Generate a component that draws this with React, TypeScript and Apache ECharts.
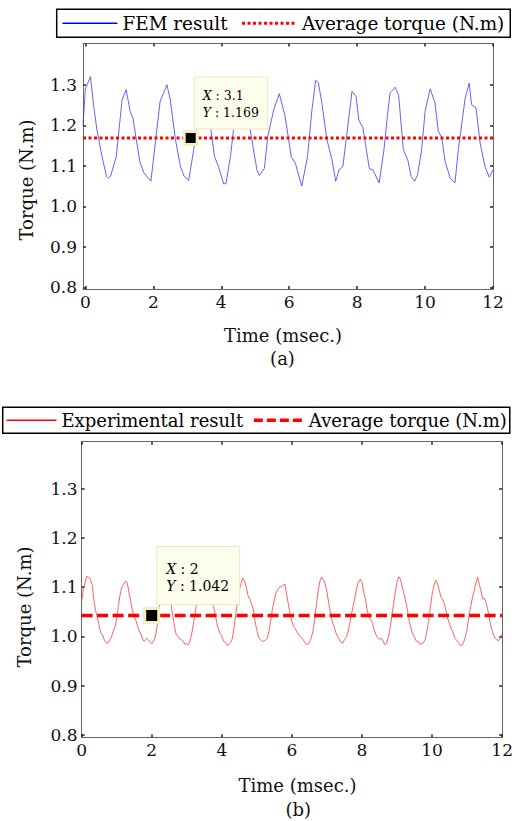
import React, { useEffect, useRef } from "react";
import * as echarts from "echarts";

// ---------- data ----------
const X_TICKS = [0, 2, 4, 6, 8, 10, 12];
const Y_TICKS = [0.8, 0.9, 1.0, 1.1, 1.2, 1.3];

const FEM_TIME = [-0.07, 0.0, 0.15, 0.245, 0.34, 0.49, 0.62, 0.68, 0.74, 0.91, 1.08, 1.2, 1.32, 1.4, 1.6, 1.72, 1.93, 2.2, 2.4, 2.5, 2.65, 2.8, 2.91, 3.04, 3.19, 3.35, 3.48, 3.6, 3.68, 3.8, 3.92, 4.07, 4.14, 4.27, 4.36, 4.5, 4.6, 4.72, 4.85, 5.05, 5.12, 5.27, 5.37, 5.55, 5.71, 5.88, 6.06, 6.18, 6.37, 6.54, 6.67, 6.78, 6.86, 6.96, 7.11, 7.26, 7.37, 7.47, 7.58, 7.7, 7.85, 7.97, 8.05, 8.17, 8.36, 8.46, 8.65, 8.79, 8.89, 8.97, 9.12, 9.22, 9.36, 9.49, 9.59, 9.69, 9.78, 9.9, 10.0, 10.15, 10.29, 10.39, 10.49, 10.59, 10.74, 10.88, 10.98, 11.18, 11.3, 11.37, 11.5, 11.62, 11.76, 11.89, 12.0];
const FEM_TORQUE = [1.2, 1.29, 1.32, 1.247, 1.189, 1.123, 1.074, 1.07, 1.074, 1.123, 1.263, 1.288, 1.234, 1.218, 1.111, 1.083, 1.062, 1.259, 1.3, 1.263, 1.165, 1.098, 1.074, 1.064, 1.14, 1.25, 1.285, 1.25, 1.2, 1.123, 1.098, 1.055, 1.057, 1.123, 1.188, 1.27, 1.29, 1.24, 1.19, 1.09, 1.076, 1.094, 1.173, 1.24, 1.278, 1.222, 1.123, 1.107, 1.05, 1.123, 1.238, 1.311, 1.305, 1.256, 1.165, 1.115, 1.062, 1.091, 1.098, 1.18, 1.284, 1.271, 1.213, 1.194, 1.093, 1.09, 1.058, 1.14, 1.222, 1.28, 1.294, 1.276, 1.14, 1.115, 1.074, 1.062, 1.078, 1.14, 1.234, 1.29, 1.256, 1.186, 1.17, 1.111, 1.07, 1.058, 1.14, 1.267, 1.304, 1.251, 1.243, 1.157, 1.099, 1.072, 1.09];

// experimental torque sampled every 0.05 ms from 0 to 12 ms (one row per ms)
const EXP_STEP = 0.05;
const EXP_TORQUE = [
  1.07, 1.094, 1.11, 1.122, 1.12, 1.116, 1.105, 1.074, 1.052, 1.038, 1.022, 1.006, 1.003, 0.992, 0.987, 0.986, 0.993, 0.998, 1.01, 1.018,
  1.035, 1.062, 1.085, 1.1, 1.105, 1.112, 1.109, 1.09, 1.072, 1.052, 1.04, 1.032, 1.02, 1.01, 1.003, 0.992, 0.99, 0.996, 0.993, 0.988,
  0.985, 0.99, 0.998, 1.018, 1.045, 1.075, 1.098, 1.112, 1.118, 1.11, 1.09, 1.066, 1.042, 1.02, 1.003, 1.0, 0.995, 0.993, 0.99, 0.984,
  0.985, 0.983, 0.992, 1.008, 1.03, 1.052, 1.075, 1.094, 1.105, 1.111, 1.112, 1.108, 1.1, 1.082, 1.075, 1.063, 1.05, 1.03, 1.015, 1.006,
  1.0, 0.99, 0.988, 0.982, 0.983, 0.988, 0.995, 1.018, 1.045, 1.072, 1.095, 1.108, 1.118, 1.112, 1.1, 1.082, 1.075, 1.066, 1.055, 1.03,
  1.012, 0.998, 0.993, 0.99, 0.99, 0.993, 0.996, 1.012, 1.035, 1.058, 1.075, 1.089, 1.095, 1.1, 1.1, 1.104, 1.106, 1.085, 1.065, 1.045,
  1.03, 1.02, 1.015, 1.008, 1.003, 0.998, 0.995, 0.99, 0.985, 0.983, 0.988, 0.996, 1.01, 1.035, 1.065, 1.092, 1.112, 1.12, 1.115, 1.106,
  1.09, 1.068, 1.048, 1.03, 1.02, 1.008, 1.0, 0.994, 0.988, 0.986, 0.993, 0.998, 1.008, 1.026, 1.045, 1.062, 1.08, 1.098, 1.11, 1.116,
  1.11, 1.09, 1.075, 1.052, 1.04, 1.033, 1.028, 1.012, 1.003, 0.997, 0.994, 0.996, 0.991, 0.983, 0.985, 0.998, 1.015, 1.04, 1.065, 1.09,
  1.11, 1.121, 1.115, 1.1, 1.085, 1.07, 1.052, 1.03, 1.015, 1.004, 0.998, 0.99, 0.99, 0.984, 0.985, 0.987, 0.993, 1.01, 1.03, 1.058,
  1.085, 1.102, 1.114, 1.108, 1.095, 1.08, 1.075, 1.066, 1.05, 1.035, 1.025, 1.014, 1.008, 0.996, 0.992, 0.986, 0.983, 0.981, 0.988, 0.998,
  1.015, 1.04, 1.06, 1.078, 1.092, 1.108, 1.12, 1.105, 1.09, 1.076, 1.077, 1.065, 1.05, 1.03, 1.015, 1.002, 0.996, 0.993, 0.991, 0.997,
  1.005,
];

const AVG_TOP = 1.169;
const AVG_BOTTOM = 1.042;
const TIP_TOP = [3.1, 1.169];
const TIP_BOTTOM = [2, 1.042];

const X_RANGE_TOP = [-0.07, 12];
const Y_RANGE_TOP = [0.796, 1.402];
const X_RANGE_BOTTOM = [0, 12];
const Y_RANGE_BOTTOM = [0.795, 1.395];

// ---------- styling ----------
const FONT = "'DejaVu Serif', serif";
const AXIS_COLOR = "#666";
const TICK_COLOR = "#222";

function makeX(gridIndex: number, range: number[], position: "top" | "bottom", labels: boolean) {
  return {
    type: "value",
    gridIndex,
    min: range[0],
    max: range[1],
    position,
    axisLine: { show: true, onZero: false, lineStyle: { color: AXIS_COLOR, width: 1 } },
    axisTick: { show: true, inside: true, length: 3, customValues: X_TICKS, lineStyle: { color: TICK_COLOR, width: 1.5 } },
    axisLabel: {
      show: labels,
      customValues: X_TICKS,
      margin: 4,
      color: "#111",
      fontFamily: FONT,
      fontSize: 17,
      formatter: (v: number) => String(Math.round(v)),
    },
    splitLine: { show: false },
  };
}

function makeY(gridIndex: number, range: number[], position: "left" | "right", labels: boolean, margin: number) {
  return {
    type: "value",
    gridIndex,
    min: range[0],
    max: range[1],
    position,
    axisLine: { show: true, onZero: false, lineStyle: { color: AXIS_COLOR, width: 1 } },
    axisTick: { show: true, inside: true, length: 3, customValues: Y_TICKS, lineStyle: { color: TICK_COLOR, width: 1.5 } },
    axisLabel: {
      show: labels,
      customValues: Y_TICKS,
      margin,
      color: "#111",
      fontFamily: FONT,
      fontSize: 17,
      formatter: (v: number) => v.toFixed(1),
    },
    splitLine: { show: false },
  };
}

function tipLabel(tip: number[], fontSize: number, lineHeight: number, pos: number[], padding: number[]) {
  const s = { fontFamily: FONT, fontSize, lineHeight, color: "#000" };
  return {
    show: true,
    position: pos,
    align: "left",
    verticalAlign: "top",
    formatter: `{i|X}{n| : ${tip[0]}}\n{i|Y}{n| : ${tip[1]}}`,
    backgroundColor: "#fdfdec",
    borderColor: "#ebe9c4",
    borderWidth: 1,
    padding,
    rich: { i: { ...s, fontStyle: "italic" }, n: s },
  };
}

const HIDE_SYMBOL = { opacity: 0, color: "transparent", borderWidth: 0 };

export default function App() {
  const ref = useRef<HTMLDivElement>(null);

  useEffect(() => {
    if (!ref.current) return;
    const chart = echarts.init(ref.current, undefined, { renderer: "svg" });

    const femData = FEM_TIME.map((t, i) => [t, FEM_TORQUE[i]]);
    const expData = EXP_TORQUE.map((v, i) => [Math.round(i * EXP_STEP * 100) / 100, v]);

    const textEl = (text: string, x: number, y: number, rotate = false) => ({
      type: "text",
      x,
      y,
      rotation: rotate ? Math.PI / 2 : 0,
      style: {
        text,
        font: `18px ${FONT}`,
        fill: "#111",
        textAlign: "center",
        textVerticalAlign: "middle",
        align: "center",
        verticalAlign: "middle",
      },
    });

    const option = {
      animation: false,
      backgroundColor: "#fff",
      grid: [
        { left: 83, top: 43.5, width: 410, height: 245.5 },
        { left: 81.6, top: 441.7, width: 428.9, height: 295.6 },
      ],
      xAxis: [
        makeX(0, X_RANGE_TOP, "bottom", true),
        makeX(0, X_RANGE_TOP, "top", false),
        makeX(1, X_RANGE_BOTTOM, "bottom", true),
        makeX(1, X_RANGE_BOTTOM, "top", false),
      ],
      yAxis: [
        makeY(0, Y_RANGE_TOP, "left", true, 6),
        makeY(0, Y_RANGE_TOP, "right", false, 6),
        makeY(1, Y_RANGE_BOTTOM, "left", true, 4),
        makeY(1, Y_RANGE_BOTTOM, "right", false, 4),
      ],
      legend: [
        {
          left: 56.7,
          top: 9.3,
          orient: "horizontal",
          itemWidth: 55,
          itemHeight: 14,
          itemGap: 13,
          padding: [5, 6, 5, 5],
          borderColor: "#000",
          borderWidth: 1.5,
          selectedMode: false,
          textStyle: { fontFamily: FONT, fontSize: 18.4, color: "#000" },
          data: [
            { name: "FEM result", itemStyle: HIDE_SYMBOL, lineStyle: { width: 1.5, color: "#0000ff" } },
            { name: "Average torque (N.m)", itemStyle: HIDE_SYMBOL, lineStyle: { width: 3, color: "#ff0000", type: [3, 2.5] } },
          ],
        },
        {
          left: 2.7,
          top: 407.3,
          orient: "horizontal",
          itemWidth: 50,
          itemHeight: 14,
          itemGap: 9,
          padding: [4, 3, 4, 3],
          borderColor: "#000",
          borderWidth: 1.5,
          selectedMode: false,
          textStyle: { fontFamily: FONT, fontSize: 18, color: "#000" },
          data: [
            { name: "Experimental result", itemStyle: HIDE_SYMBOL, lineStyle: { width: 1.5, color: "#ff0000" } },
            { name: "Average torque (N.m)", itemStyle: HIDE_SYMBOL, lineStyle: { width: 3.5, color: "#ff0000", type: [9, 4] } },
          ],
        },
      ],
      series: [
        {
          name: "FEM result",
          type: "line",
          xAxisIndex: 0,
          yAxisIndex: 0,
          data: femData,
          symbol: "none",
          color: "#0000ff",
          lineStyle: { color: "#3a3aff", width: 0.8 },
          z: 2,
        },
        {
          name: "Average torque (N.m)",
          type: "line",
          xAxisIndex: 0,
          yAxisIndex: 0,
          data: [
            [X_RANGE_TOP[0], AVG_TOP],
            [X_RANGE_TOP[1], AVG_TOP],
          ],
          symbol: "none",
          color: "#ff0000",
          lineStyle: { color: "#ff0000", width: 3, type: [3, 2.5] },
          z: 3,
          markPoint: {
            symbol: "rect",
            symbolSize: 13,
            itemStyle: { color: "#000", borderColor: "#f3efc0", borderWidth: 3 },
            label: tipLabel(TIP_TOP, 12.5, 16.5, [12, -52.5], [10, 8, 8, 8]),
            data: [{ coord: TIP_TOP }],
          },
        },
        {
          name: "Experimental result",
          type: "line",
          xAxisIndex: 2,
          yAxisIndex: 2,
          data: expData,
          symbol: "none",
          color: "#ff0000",
          lineStyle: { color: "#ff3a3a", width: 0.8 },
          z: 2,
        },
        {
          name: "Average torque (N.m)",
          type: "line",
          xAxisIndex: 2,
          yAxisIndex: 2,
          data: [
            [X_RANGE_BOTTOM[0], AVG_BOTTOM],
            [X_RANGE_BOTTOM[1], AVG_BOTTOM],
          ],
          symbol: "none",
          color: "#ff0000",
          lineStyle: { color: "#ff0000", width: 3.5, type: [11, 4.5] },
          z: 3,
          markPoint: {
            symbol: "rect",
            symbolSize: 14,
            itemStyle: { color: "#000", borderColor: "#f3efc0", borderWidth: 3 },
            label: tipLabel(TIP_BOTTOM, 14, 16.5, [14, -60], [14, 10, 10, 9]),
            data: [{ coord: TIP_BOTTOM }],
          },
        },
      ],
      graphic: [
        textEl("Torque (N.m)", 26.5, 180, true),
        textEl("Time (msec.)", 283, 335),
        textEl("(a)", 282.5, 358),
        textEl("Torque (N.m)", 24, 607, true),
        textEl("Time (msec.)", 297.5, 785),
        textEl("(b)", 298.3, 809),
      ],
    };

    chart.setOption(option as any);
    return () => chart.dispose();
  }, []);

  return (
    <div
      ref={ref}
      style={{ position: "fixed", left: 0, top: 0, width: 516, height: 821, background: "#fff" }}
    />
  );
}
